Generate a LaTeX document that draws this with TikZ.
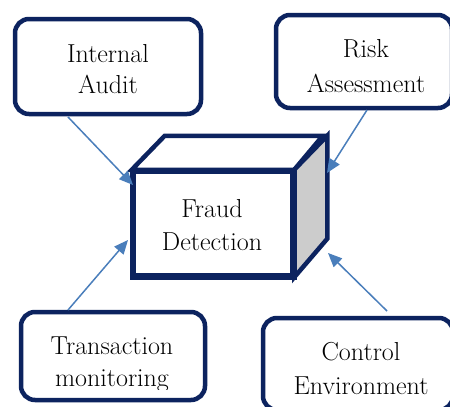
\documentclass[tikz,border=0pt]{standalone}
\usetikzlibrary{arrows.meta}
\definecolor{navy}{RGB}{12,35,95}
\definecolor{arrowblue}{RGB}{74,126,187}
\definecolor{sidegray}{RGB}{204,204,204}
\begin{document}
\begin{tikzpicture}[x=1pt,y=-1pt,
  box/.style={draw=navy,line width=4.5pt,rounded corners=14pt,fill=white,minimum width=#1},
  face/.style={draw=navy,line width=4.5pt,line join=miter},
  lbl/.style={align=center,inner sep=0pt,text=black},
  conn/.style={draw=arrowblue,line width=1.5pt,-{Triangle[length=14pt,width=12pt]}}]
\clip (0,0) rectangle (450,407);
\fill[white] (0,0) rectangle (450,407);
% boxes
\node[box=186pt,minimum height=95pt] (ia) at (108,66.5) {};
\node[box=176pt,minimum height=93pt] (ra) at (364,61.5) {};
\node[box=184pt,minimum height=88pt] (tm) at (113,356) {};
\node[box=190pt,minimum height=92pt] (ce) at (358,364) {};
% labels
\node[lbl,font=\fontsize{26}{31}\selectfont] (iat) at (108,68.6) {Internal\\Audit};
\node[lbl,font=\fontsize{26}{35}\selectfont] (rat) at (366,65.6) {Risk\\Assessment};
\begin{scope}
\clip (21,312) rectangle (205,389);
\node[lbl,font=\fontsize{26}{32}\selectfont] (tmt) at (112,364.7) {Transaction\\monitoring};
\end{scope}
\node[lbl,font=\fontsize{26}{34}\selectfont] (cet) at (361,368.1) {Control\\Environment};
% cube
\node[face,fill=white,minimum width=158pt,minimum height=103pt,inner sep=0pt] (fd) at (213,223.5) {};
\draw[face,fill=white] (fd.north west) -- ++(33,-34) -- ++(158,0) -- (fd.north east) -- cycle;
\draw[face,fill=sidegray] (fd.north east) -- ++(33,-34) -- ++(0,103) -- (fd.south east) -- cycle;
\draw[face] (fd.north west) rectangle (fd.south east);
\node[lbl,font=\fontsize{26}{33}\selectfont] (fdt) at (212,224.6) {Fraud\\Detection};
% connector ends
\coordinate (ia-o) at (68,117);
\coordinate (fd-ia) at (133,185);
\coordinate (ra-o) at (367,110);
\coordinate (fd-ra) at (327,173);
\coordinate (tm-o) at (68,310);
\coordinate (fd-tm) at (128,240);
\coordinate (ce-o) at (387,311);
\coordinate (fd-ce) at (328,253);
\draw[conn] (ia-o) -- (fd-ia);
\draw[conn] (ra-o) -- (fd-ra);
\draw[conn] (tm-o) -- (fd-tm);
\draw[conn] (ce-o) -- (fd-ce);
\end{tikzpicture}
\end{document}
